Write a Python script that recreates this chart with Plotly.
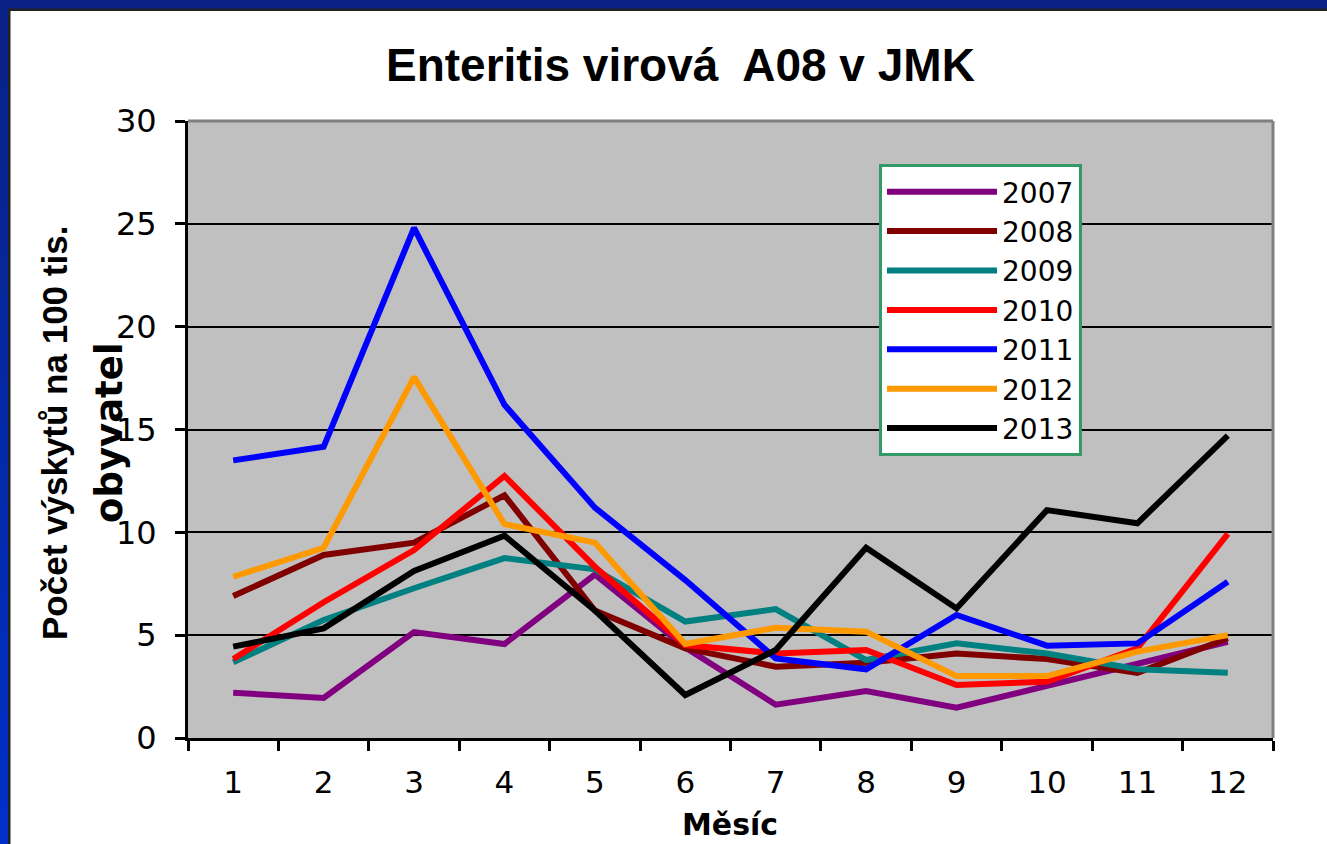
import plotly.graph_objects as go

months = ["1", "2", "3", "4", "5", "6", "7", "8", "9", "10", "11", "12"]
years = ["2007", "2008", "2009", "2010", "2011", "2012", "2013"]
y2007 = [2.2, 1.95, 5.15, 4.57, 7.95, 4.4, 1.62, 2.28, 1.47, 2.55, 3.62, 4.68]
y2008 = [6.9, 8.9, 9.5, 11.8, 6.2, 4.36, 3.47, 3.66, 4.11, 3.84, 3.17, 4.85]
y2009 = [3.68, 5.74, 7.28, 8.75, 8.2, 5.66, 6.27, 3.79, 4.6, 4.11, 3.34, 3.17]
y2010 = [3.84, 6.6, 9.14, 12.74, 8.33, 4.52, 4.11, 4.28, 2.58, 2.74, 4.36, 9.92]
y2011 = [13.5, 14.16, 24.8, 16.2, 11.2, 7.68, 3.87, 3.34, 5.98, 4.49, 4.6, 7.6]
y2012 = [7.84, 9.25, 17.55, 10.4, 9.5, 4.57, 5.36, 5.17, 3.01, 3.01, 4.2, 5.0]
y2013 = [4.44, 5.33, 8.12, 9.84, 6.2, 2.09, 4.28, 9.25, 6.3, 11.08, 10.44, 14.7]
series = [y2007, y2008, y2009, y2010, y2011, y2012, y2013]
colors = ["#800080", "#800000", "#008080", "#FF0000", "#0000FF", "#FF9900", "#000000"]

W, H = 1327, 844
L, R, T, B = 188, 1273, 121, 738
FONT = "Arial, 'Liberation Sans', sans-serif"
WIDE = "'DejaVu Sans', sans-serif"


def px(x):
    return (x - L) / (R - L)


def py(y):
    return (B - y) / (B - T)


fig = go.Figure()
for name, vals, col in zip(years, series, colors):
    fig.add_trace(go.Scatter(x=months, y=vals, name=name, mode="lines",
                             line=dict(color=col, width=6)))

shapes = []
# top/right gray plot border
shapes.append(dict(type="line", xref="paper", yref="paper", x0=0, x1=1, y0=1, y1=1,
                   line=dict(color="#808080", width=3), layer="above"))
shapes.append(dict(type="line", xref="paper", yref="paper", x0=1, x1=1, y0=0, y1=1,
                   line=dict(color="#808080", width=3), layer="above"))
# slide frame: top band and left band with gradient
shapes.append(dict(type="rect", xref="paper", yref="paper", x0=px(0), x1=px(W),
                   y0=py(9), y1=py(0), line=dict(width=0), fillcolor="#0A2285", layer="above"))
shapes.append(dict(type="rect", xref="paper", yref="paper", x0=px(8), x1=px(W),
                   y0=py(11), y1=py(8.5), line=dict(width=0), fillcolor="#222222", layer="above"))
nseg = 20
for i in range(nseg):
    t = i / (nseg - 1)
    r = int(10 + (0 - 10) * t)
    g = int(34 + (48 - 34) * t)
    b = int(133 + (200 - 133) * t)
    y0 = i * H / nseg
    y1 = (i + 1) * H / nseg + 1
    shapes.append(dict(type="rect", xref="paper", yref="paper", x0=px(0), x1=px(8),
                       y0=py(min(y1, H)), y1=py(max(y0, 9)), line=dict(width=0),
                       fillcolor=f"rgb({r},{g},{b})", layer="above"))
shapes.append(dict(type="rect", xref="paper", yref="paper", x0=px(8), x1=px(10.5),
                   y0=py(H), y1=py(9), line=dict(width=0), fillcolor="#222222", layer="above"))

annotations = [
    dict(text="<b>Enteritis virová  A08 v JMK</b>", x=px(680), y=py(65), xref="paper", yref="paper",
         showarrow=False, xanchor="center", yanchor="middle",
         font=dict(family=FONT, size=46, color="black")),
    dict(text="<b>Počet výskytů na 100 tis.</b>", x=px(55), y=py(433), xref="paper", yref="paper",
         showarrow=False, xanchor="center", yanchor="middle", textangle=-90,
         font=dict(family=FONT, size=35, color="black")),
    dict(text="<b>obyvatel</b>", x=px(110), y=py(433), xref="paper", yref="paper",
         showarrow=False, xanchor="center", yanchor="middle", textangle=-90,
         font=dict(family=WIDE, size=37, color="black")),
    dict(text="<b>Měsíc</b>", x=px(730), y=py(824), xref="paper", yref="paper",
         showarrow=False, xanchor="center", yanchor="middle",
         font=dict(family=WIDE, size=30, color="black")),
]

fig.update_layout(
    width=W, height=H,
    margin=dict(l=L, r=W - R, t=T, b=H - B),
    paper_bgcolor="white",
    plot_bgcolor="#C0C0C0",
    showlegend=True,
    legend=dict(x=px(879), y=py(164), xanchor="left", yanchor="top",
                bgcolor="white", bordercolor="#339966", borderwidth=3,
                font=dict(family=WIDE, size=28, color="black"),
                itemwidth=110, tracegroupgap=0),
    shapes=shapes,
    annotations=annotations,
    xaxis=dict(type="category", tickson="boundaries", ticks="outside", ticklen=10,
               range=[-0.5, 11.5],
               tickwidth=3, tickcolor="black", showline=True, linecolor="black", linewidth=3,
               showgrid=False, tickfont=dict(family=WIDE, size=31, color="black"),
               ticklabelstandoff=15, fixedrange=True),
    yaxis=dict(range=[0, 30], dtick=5, ticks="outside", ticklen=10, tickwidth=3,
               tickcolor="black", showline=True, linecolor="black", linewidth=3,
               showgrid=True, gridcolor="black", gridwidth=2, zeroline=False,
               tickfont=dict(family=WIDE, size=32, color="black"),
               ticklabelstandoff=12, fixedrange=True),
)

fig.write_html(
    "out.html",
    config={"displayModeBar": False},
    post_script="document.body.style.margin='0';document.body.style.padding='0';"
                "document.body.style.overflow='hidden';",
)
